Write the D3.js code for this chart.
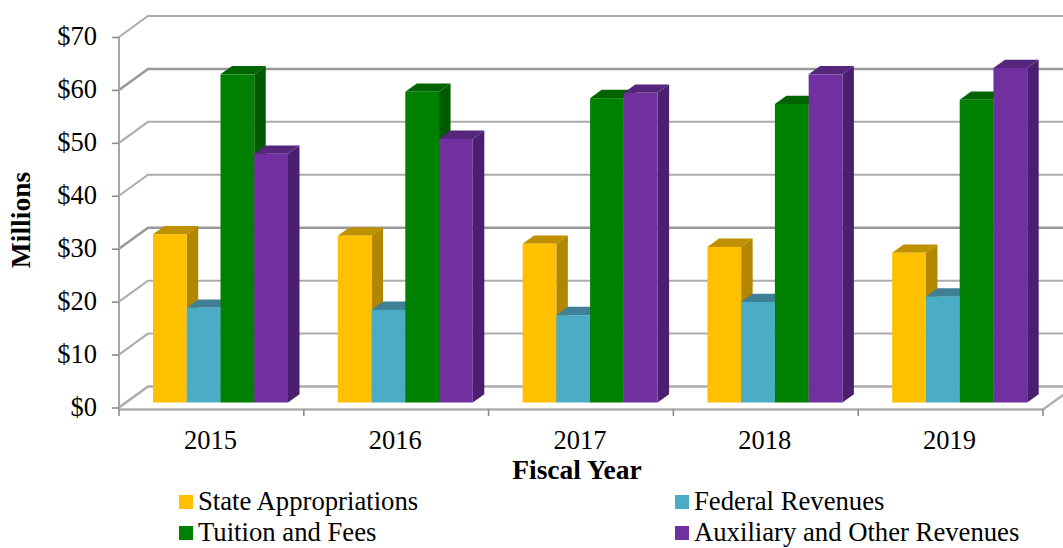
<!DOCTYPE html>
<html>
<head>
<meta charset="utf-8">
<script src="https://d3js.org/d3.v7.min.js"></script>
<style>
  html, body { margin: 0; padding: 0; background: #fff; }
  text { font-family: "Liberation Serif", "Times New Roman", serif; fill: #000; }
  .axis text { font-size: 26.5px; }
  .axis .domain { display: none; }
</style>
</head>
<body>
<div id="chart"></div>
<script>
var w = 1063, h = 548;

var years = ["2015", "2016", "2017", "2018", "2019"];
var seriesNames = ["State Appropriations", "Federal Revenues", "Tuition and Fees", "Auxiliary and Other Revenues"];
var state = [31.8, 31.5, 30.0, 29.4, 28.3];
var federal = [17.9, 17.5, 16.5, 19.0, 20.0];
var tuition = [62.0, 58.7, 57.5, 56.4, 57.2];
var auxiliary = [47.0, 49.8, 58.5, 62.0, 63.2];
var yTicks = [0, 10, 20, 30, 40, 50, 60, 70];

var front = ["#ffc000", "#4bacc6", "#008000", "#7030a0"];
var side = ["#b38600", "#357f93", "#005a00", "#4b1f6f"];
var top_ = ["#bf9000", "#3f8096", "#006400", "#56257c"];

var series = [state, federal, tuition, auxiliary];

// 3d offsets, wall is pushed back from the front axis, bars stand halfway
var wallDx = 29, wallDy = -21;
var barDx = 11.5, barDy = -8.3;
var barOffY = -5;

var svg = d3.select("#chart").append("svg").attr("width", w).attr("height", h);

var y = d3.scaleLinear().domain([0, 70]).range([407.5, 37]);
var x0 = d3.scaleBand().domain(years).range([119, 1043]).paddingInner(0).paddingOuter(0);
var x1 = d3.scaleBand().domain(d3.range(4)).range([34, 34 + 135]);

// back wall grid
var grid = svg.append("g");
yTicks.forEach(function (t) {
  var heavy = t == 60 || t == 30 || t == 0;
  grid.append("path")
    .attr("d", "M119 " + y(t) + " L" + (119 + wallDx) + " " + (y(t) + wallDy) + " H" + w)
    .attr("fill", "none")
    .attr("stroke", heavy && t != 0 ? "#999" : "#acacac")
    .attr("stroke-width", heavy ? 2.6 : 2);
});

// floor front edge and right side edge
grid.append("path")
  .attr("d", "M119 409.5 H1043 L" + (1043 + wallDx) + " " + (409.5 + wallDy))
  .attr("fill", "none").attr("stroke", "#b0b0b0").attr("stroke-width", 2.4);
grid.append("line")
  .attr("x1", 119).attr("x2", 119).attr("y1", y(70)).attr("y2", 409)
  .attr("stroke", "#a6a6a6").attr("stroke-width", 2);

// bars
years.forEach(function (yr, i) {
  var g = svg.append("g").attr("transform", "translate(" + x0(yr) + "," + barOffY + ")");
  series.forEach(function (vals, s) {
    var bx = x1(s), bw = x1.bandwidth(), ty = y(vals[i]), by = y(0);
    g.append("path")
      .attr("d", "M" + (bx + bw) + " " + ty + " l" + barDx + " " + barDy + " V" + (by + barDy) + " l" + (-barDx) + " " + (-barDy) + "Z")
      .attr("fill", side[s]);
    g.append("path")
      .attr("d", "M" + bx + " " + ty + " l" + barDx + " " + barDy + " h" + bw + " l" + (-barDx) + " " + (-barDy) + "Z")
      .attr("fill", top_[s]);
    g.append("rect")
      .attr("x", bx).attr("y", ty).attr("width", bw).attr("height", by - ty)
      .attr("fill", front[s]);
  });
});

// y axis
var yAxis = d3.axisLeft(y).tickValues(yTicks).tickSize(7).tickPadding(15)
  .tickFormat(function (d) { return "$" + d; });
var gy = svg.append("g").attr("class", "axis").attr("transform", "translate(119,0)").call(yAxis);
gy.selectAll("line").attr("stroke", "#8c8c8c").attr("stroke-width", 1.6);
gy.selectAll("text").attr("x", -22).attr("dy", "0.29em");

// x axis
var xAxis = d3.axisBottom(x0).tickSize(0).tickPadding(21);
var gx = svg.append("g").attr("class", "axis").attr("transform", "translate(0,409)").call(xAxis);
gx.selectAll("text").attr("dx", -1);
d3.range(6).forEach(function (i) {
  var xp = 119 + i * x0.step();
  svg.append("line").attr("x1", xp).attr("x2", xp).attr("y1", 409).attr("y2", 416)
    .attr("stroke", "#8c8c8c").attr("stroke-width", 1.6);
});

// axis titles
svg.append("text").attr("transform", "translate(30,220) rotate(-90)")
  .attr("text-anchor", "middle").attr("font-size", 27.5).attr("font-weight", "bold").text("Millions");
svg.append("text").attr("x", 577).attr("y", 479)
  .attr("text-anchor", "middle").attr("font-size", 27.5).attr("font-weight", "bold").text("Fiscal Year");

// legend
var legendX = [179, 675], legendY = [495, 526];
seriesNames.forEach(function (name, s) {
  var lx = legendX[s % 2], ly = legendY[Math.floor(s / 2)];
  svg.append("rect").attr("x", lx).attr("y", ly).attr("width", 14).attr("height", 14).attr("fill", front[s]);
  svg.append("text").attr("x", lx + 19).attr("y", ly + 15).attr("font-size", 26.7).text(name);
});
</script>
</body>
</html>
